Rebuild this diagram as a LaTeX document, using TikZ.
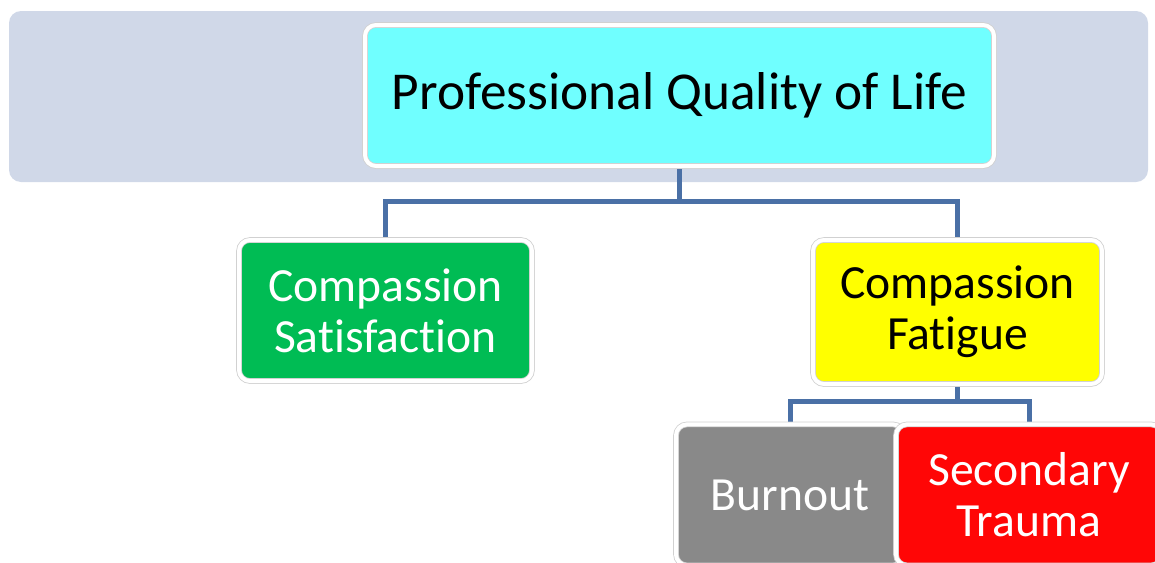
\documentclass[tikz,border=0pt]{standalone}
\usepackage{fontspec}
\setmainfont{Carlito}[Ligatures={NoCommon}]
\usetikzlibrary{positioning, backgrounds}
\definecolor{bandgray}{RGB}{208,216,232}
\definecolor{linkblue}{RGB}{74,112,166}
\definecolor{qolcyan}{RGB}{112,255,255}
\definecolor{csgreen}{RGB}{0,188,84}
\definecolor{cfyellow}{RGB}{255,255,0}
\definecolor{bogray}{RGB}{137,137,137}
\definecolor{stred}{RGB}{255,6,6}

\begin{document}
\begin{tikzpicture}[x=1pt, y=-1pt,
    box/.style={draw=black!18, double=white, double distance=4pt, line width=0.8pt,
        rounded corners=11pt, align=center, inner sep=0pt,
        font=\fontsize{47.6}{51}\selectfont},
    link/.style={draw=linkblue, line width=5pt}]
    \useasboundingbox (0,0) rectangle (1155,562);
    \clip (0,0) rectangle (1155,562);

    % Top level
    \node (qol) [box, fill=qolcyan, minimum width=629pt, minimum height=141pt,
        font=\fontsize{53.3}{57}\selectfont] at (679.5,95.5) {Professional Quality of Life};

    % Second level
    \node (sat) [box, fill=csgreen, text=white, minimum width=293pt, minimum height=141pt]
        at (385.5,310.5) {Compassion\\Satisfaction};
    \node (fat) [box, fill=cfyellow, minimum width=289pt, minimum height=144pt]
        at (957.5,312) {Compassion\\Fatigue};

    % Third level
    \node (burn) [box, fill=bogray, text=white, minimum width=228pt, minimum height=141pt,
        anchor=north] at (790,424) {Burnout};
    \node (trauma) [box, fill=stred, text=white, minimum width=266pt, minimum height=141pt,
        anchor=north] at (1029,424) {Secondary\\Trauma};

    % Header band and links, behind the boxes
    \begin{scope}[on background layer]
    \fill[bandgray, rounded corners=12pt] (9,11) rectangle (1148,182);
    \draw[link] (qol.south) -- ++(0,35) -| (sat.north);
    \draw[link] (qol.south) -- ++(0,35) -| (fat.north);
    \draw[link] (fat.south) -- ++(0,17) -| (burn.north);
    \draw[link] (fat.south) -- ++(0,17) -| (trauma.north);
    \end{scope}
\end{tikzpicture}
\end{document}
